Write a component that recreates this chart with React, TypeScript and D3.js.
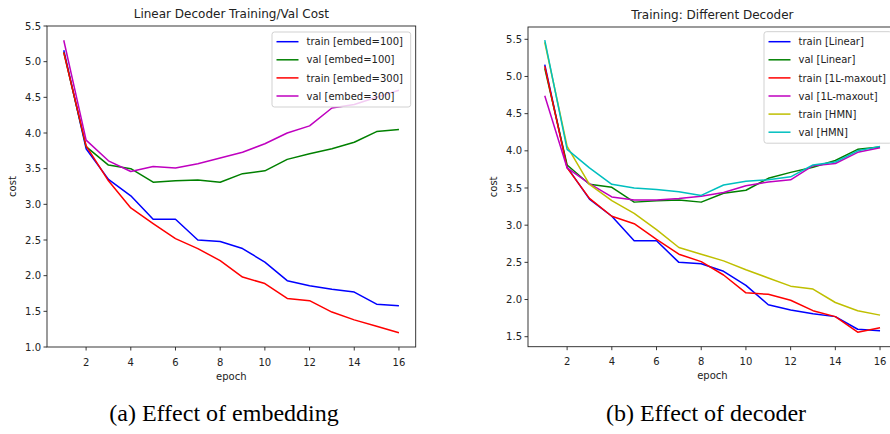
import React, { useEffect, useRef } from "react";
import * as d3 from "d3";

const epochs = [1, 2, 3, 4, 5, 6, 7, 8, 9, 10, 11, 12, 13, 14, 15, 16];

// Left chart: Linear Decoder Training/Val Cost
const trainEmbed100 = [5.16, 3.78, 3.35, 3.12, 2.79, 2.79, 2.50, 2.48, 2.38, 2.19, 1.93, 1.86, 1.81, 1.77, 1.60, 1.58];
const valEmbed100 = [5.13, 3.81, 3.55, 3.50, 3.31, 3.33, 3.34, 3.31, 3.43, 3.47, 3.63, 3.71, 3.78, 3.87, 4.02, 4.05];
const trainEmbed300 = [5.13, 3.82, 3.33, 2.95, 2.73, 2.52, 2.38, 2.21, 1.98, 1.89, 1.68, 1.65, 1.49, 1.38, 1.29, 1.20];
const valEmbed300 = [5.30, 3.90, 3.61, 3.46, 3.53, 3.51, 3.57, 3.65, 3.73, 3.85, 4.00, 4.10, 4.35, 4.40, 4.50, 4.60];

// Right chart: Training: Different Decoder
const trainLinear = [5.16, 3.78, 3.35, 3.12, 2.79, 2.79, 2.50, 2.48, 2.38, 2.19, 1.93, 1.86, 1.81, 1.77, 1.60, 1.58];
const valLinear = [5.11, 3.81, 3.55, 3.51, 3.31, 3.33, 3.34, 3.31, 3.43, 3.47, 3.63, 3.71, 3.78, 3.87, 4.02, 4.05];
const trainMaxout = [5.14, 3.77, 3.36, 3.12, 3.02, 2.81, 2.61, 2.51, 2.33, 2.09, 2.07, 1.99, 1.85, 1.77, 1.56, 1.62];
const valMaxout = [4.74, 3.77, 3.56, 3.38, 3.34, 3.34, 3.36, 3.39, 3.44, 3.53, 3.58, 3.61, 3.80, 3.83, 3.98, 4.04];
const trainHMN = [5.46, 4.06, 3.55, 3.33, 3.16, 2.94, 2.70, 2.61, 2.52, 2.40, 2.29, 2.18, 2.14, 1.96, 1.85, 1.79];
const valHMN = [5.49, 4.02, 3.77, 3.55, 3.50, 3.48, 3.45, 3.40, 3.54, 3.59, 3.61, 3.65, 3.81, 3.85, 4.00, 4.06];

const leftTitle = "Linear Decoder Training/Val Cost";
const rightTitle = "Training: Different Decoder";
const leftYTicks = [1.0, 1.5, 2.0, 2.5, 3.0, 3.5, 4.0, 4.5, 5.0, 5.5];
const rightYTicks = [1.5, 2.0, 2.5, 3.0, 3.5, 4.0, 4.5, 5.0, 5.5];
const xTicks = [2, 4, 6, 8, 10, 12, 14, 16];
const captions = ["(a) Effect of embedding", "(b) Effect of decoder"];

const COL = { b: "#0000ff", g: "#008000", r: "#ff0000", m: "#bf00bf", y: "#bfbf00", c: "#00bfbf" };

const leftSeries = [
  { name: "train [embed=100]", values: trainEmbed100, color: COL.b },
  { name: "val [embed=100]", values: valEmbed100, color: COL.g },
  { name: "train [embed=300]", values: trainEmbed300, color: COL.r },
  { name: "val [embed=300]", values: valEmbed300, color: COL.m },
];
const rightSeries = [
  { name: "train [Linear]", values: trainLinear, color: COL.b },
  { name: "val [Linear]", values: valLinear, color: COL.g },
  { name: "train [1L-maxout]", values: trainMaxout, color: COL.r },
  { name: "val [1L-maxout]", values: valMaxout, color: COL.m },
  { name: "train [HMN]", values: trainHMN, color: COL.y },
  { name: "val [HMN]", values: valHMN, color: COL.c },
];

const FONT = "DejaVu Sans, sans-serif";

type Cfg = {
  left: number; right: number; top: number; bottom: number;
  yDomain: [number, number]; yTicks: number[]; title: string;
  series: { name: string; values: number[]; color: string }[];
  legend: { x0: number; x1: number; y0: number; row0: number; rowH: number };
  ylabelX: number;
};

function drawChart(svg: d3.Selection<SVGSVGElement, unknown, null, undefined>, cfg: Cfg) {
  const g = svg.append("g");
  const x = d3.scaleLinear().domain([0.25, 16.75]).range([cfg.left, cfg.right]);
  const y = d3.scaleLinear().domain(cfg.yDomain).range([cfg.bottom, cfg.top]);

  const clipId = "clip" + Math.round(cfg.left);
  svg.append("defs").append("clipPath").attr("id", clipId)
    .append("rect").attr("x", cfg.left).attr("y", cfg.top)
    .attr("width", cfg.right - cfg.left).attr("height", cfg.bottom - cfg.top);

  const line = d3.line<number>().x((_, i) => x(epochs[i])).y((v) => y(v));
  const lines = g.append("g").attr("clip-path", `url(#${clipId})`);
  cfg.series.forEach((s) => {
    lines.append("path").attr("d", line(s.values)!).attr("fill", "none")
      .attr("stroke", s.color).attr("stroke-width", 1.5).attr("stroke-linejoin", "round");
  });

  // spines
  g.append("rect").attr("x", cfg.left).attr("y", cfg.top)
    .attr("width", cfg.right - cfg.left).attr("height", cfg.bottom - cfg.top)
    .attr("fill", "none").attr("stroke", "#222").attr("stroke-width", 0.9);

  // y ticks
  cfg.yTicks.forEach((t) => {
    const yy = y(t);
    g.append("line").attr("x1", cfg.left - 3.5).attr("x2", cfg.left).attr("y1", yy).attr("y2", yy)
      .attr("stroke", "#222").attr("stroke-width", 0.9);
    g.append("text").attr("x", cfg.left - 6).attr("y", yy).attr("dy", "0.36em")
      .attr("text-anchor", "end").attr("font-family", FONT).attr("font-size", 10)
      .attr("fill", "#222").text(t.toFixed(1));
  });
  // x ticks
  xTicks.forEach((t) => {
    const xx = x(t);
    g.append("line").attr("x1", xx).attr("x2", xx).attr("y1", cfg.bottom).attr("y2", cfg.bottom + 3.5)
      .attr("stroke", "#222").attr("stroke-width", 0.9);
    g.append("text").attr("x", xx).attr("y", cfg.bottom + 18.5)
      .attr("text-anchor", "middle").attr("font-family", FONT).attr("font-size", 10)
      .attr("fill", "#222").text(String(t));
  });
  // labels
  g.append("text").attr("x", (cfg.left + cfg.right) / 2).attr("y", cfg.bottom + 32.5)
    .attr("text-anchor", "middle").attr("font-family", FONT).attr("font-size", 10)
    .attr("fill", "#222").text("epoch");
  const cy = (cfg.top + cfg.bottom) / 2;
  g.append("text").attr("transform", `translate(${cfg.ylabelX},${cy}) rotate(-90)`)
    .attr("text-anchor", "middle").attr("dy", "0.36em").attr("font-family", FONT).attr("font-size", 10)
    .attr("fill", "#222").text("cost");
  g.append("text").attr("x", (cfg.left + cfg.right) / 2).attr("y", cfg.top - 8)
    .attr("text-anchor", "middle").attr("font-family", FONT).attr("font-size", 12)
    .attr("fill", "#222").text(cfg.title);

  // legend
  const L = cfg.legend;
  const n = cfg.series.length;
  const boxH = L.row0 - L.y0 + (n - 1) * L.rowH + 11;
  g.append("rect").attr("x", L.x0).attr("y", L.y0).attr("width", L.x1 - L.x0).attr("height", boxH)
    .attr("rx", 2.5).attr("fill", "white").attr("fill-opacity", 0.8)
    .attr("stroke", "#cccccc").attr("stroke-width", 0.9);
  cfg.series.forEach((s, i) => {
    const ry = L.row0 + i * L.rowH;
    g.append("line").attr("x1", L.x0 + 4.5).attr("x2", L.x0 + 26.5).attr("y1", ry).attr("y2", ry)
      .attr("stroke", s.color).attr("stroke-width", 1.5);
    g.append("text").attr("x", L.x0 + 34.5).attr("y", ry).attr("dy", "0.36em")
      .attr("font-family", FONT).attr("font-size", 10).attr("fill", "#222").text(s.name);
  });
}

export default function App() {
  const ref = useRef<SVGSVGElement>(null);
  useEffect(() => {
    const svg = d3.select(ref.current!);
    svg.selectAll("*").remove();
    drawChart(svg, {
      left: 47, right: 415.7, top: 26, bottom: 347,
      yDomain: [1.0, 5.5], yTicks: leftYTicks, title: leftTitle, series: leftSeries,
      legend: { x0: 272, x1: 410.7, y0: 32, row0: 41.7, rowH: 18.1 },
      ylabelX: 12,
    });
    drawChart(svg, {
      left: 528, right: 896.8, top: 27, bottom: 346.7,
      yDomain: [1.3655, 5.6654], yTicks: rightYTicks, title: rightTitle, series: rightSeries,
      legend: { x0: 764, x1: 891.8, y0: 31.7, row0: 41.7, rowH: 18.1 },
      ylabelX: 493,
    });
    [224, 706].forEach((cx, i) => {
      svg.append("text").attr("x", cx).attr("y", 421).attr("text-anchor", "middle")
        .attr("font-family", "Liberation Serif, Times New Roman, serif").attr("font-size", 24)
        .attr("fill", "#000").text(captions[i]);
    });
  }, []);
  return (
    <svg ref={ref} width={890} height={434}
      style={{ position: "absolute", left: 0, top: 0, background: "white" }} />
  );
}
